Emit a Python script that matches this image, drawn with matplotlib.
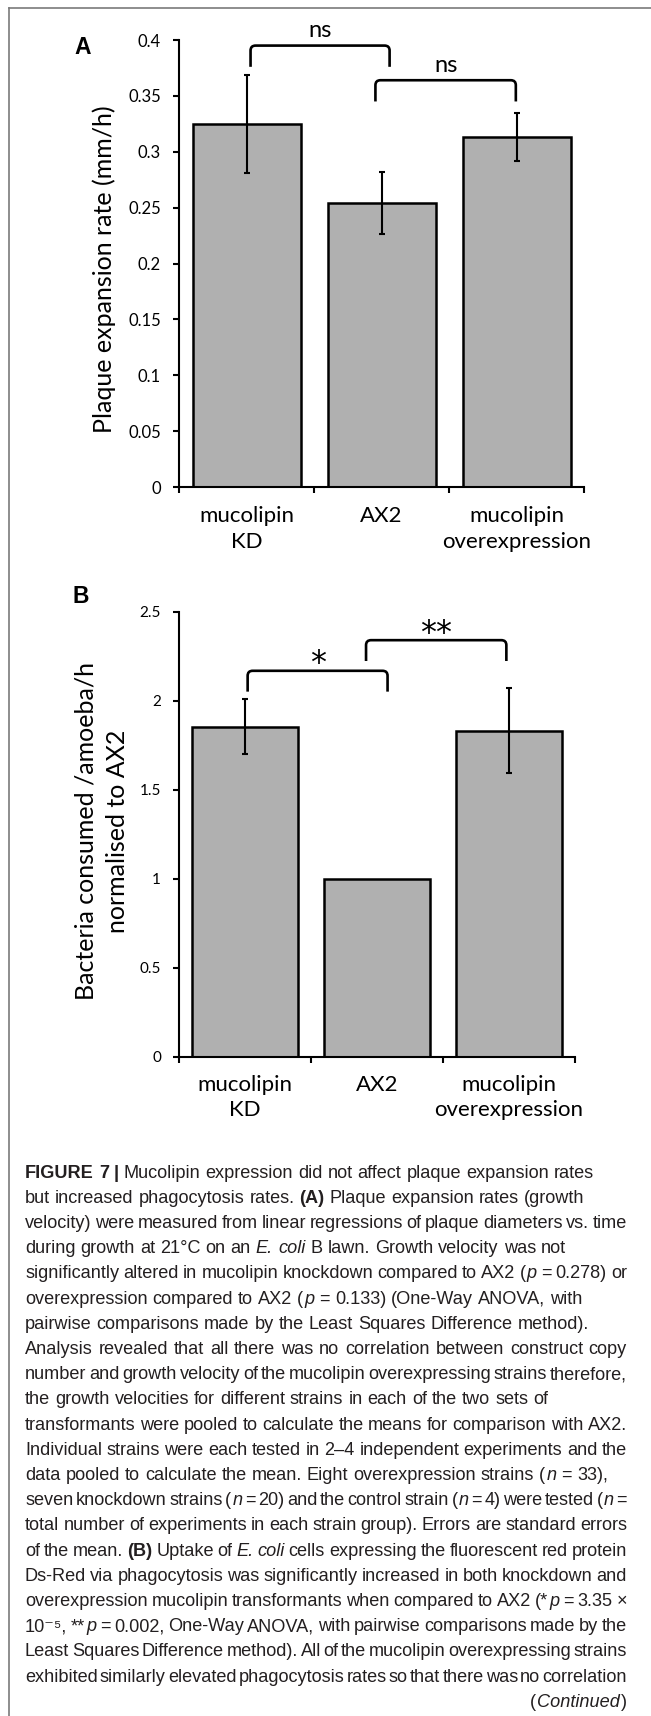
import re

import matplotlib

matplotlib.use("Agg")
import matplotlib.pyplot as plt
from matplotlib.lines import Line2D
from matplotlib.patches import PathPatch
from matplotlib.path import Path
from matplotlib.transforms import IdentityTransform

# Размер картинки в пикселях
W, H = 651, 1716
DPI = 100

# Данные
categories = ["mucolipin\nKD", "AX2", "mucolipin\noverexpression"]

rate_mean = [0.325, 0.254, 0.313]
rate_sem = [0.044, 0.028, 0.0215]
rate_ticks = [0, 0.05, 0.1, 0.15, 0.2, 0.25, 0.3, 0.35, 0.4]
rate_label = "Plaque expansion rate (mm/h)"
# (x от, x до, низ ножек, верх скобки, подпись)
rate_brackets = [(0.03, 1.06, 0.376, 0.395, "ns"), (0.955, 1.995, 0.345, 0.364, "ns")]

uptake_mean = [1.854, 1.0, 1.831]
uptake_sem = [0.156, 0.0, 0.239]
uptake_ticks = [0, 0.5, 1, 1.5, 2, 2.5]
uptake_label = "Bacteria consumed /amoeba/h\nnormalised to AX2"
uptake_brackets = [(0.02, 1.08, 2.05, 2.167, "*"), (0.917, 1.98, 2.222, 2.339, "**")]

CAPTION = [
    "<b>FIGURE 7 |</b> Mucolipin expression did not affect plaque expansion rates",
    "but increased phagocytosis rates. <b>(A)</b> Plaque expansion rates (growth",
    "velocity) were measured from linear regressions of plaque diameters vs. time",
    "during growth at 21°C on an <i>E. coli</i> B lawn. Growth velocity was not",
    "significantly altered in mucolipin knockdown compared to AX2 (<i>p</i> = 0.278) or",
    "overexpression compared to AX2 (<i>p</i> = 0.133) (One-Way ANOVA, with",
    "pairwise comparisons made by the Least Squares Difference method).",
    "Analysis revealed that all there was no correlation between construct copy",
    "number and growth velocity of the mucolipin overexpressing strains therefore,",
    "the growth velocities for different strains in each of the two sets of",
    "transformants were pooled to calculate the means for comparison with AX2.",
    "Individual strains were each tested in 2–4 independent experiments and the",
    "data pooled to calculate the mean. Eight overexpression strains (<i>n</i> = 33),",
    "seven knockdown strains (<i>n</i> = 20) and the control strain (<i>n</i> = 4) were tested (<i>n</i> =",
    "total number of experiments in each strain group). Errors are standard errors",
    "of the mean. <b>(B)</b> Uptake of <i>E. coli</i> cells expressing the fluorescent red protein",
    "Ds-Red via phagocytosis was significantly increased in both knockdown and",
    "overexpression mucolipin transformants when compared to AX2 (*<i>p</i> = 3.35 ×",
    "10⁻⁵, **<i>p</i> = 0.002, One-Way ANOVA, with pairwise comparisons made by the",
    "Least Squares Difference method). All of the mucolipin overexpressing strains",
    "exhibited similarly elevated phagocytosis rates so that there was no correlation",
]
CAPTION_TAIL = "(<i>Continued</i>)"
RAGGED = {0, 1, 3, 5, 6, 9, 12}  # строки без выключки по ширине

# Стиль
BAR_GREY = "#b0b0b0"
CAP_FONT = ["Liberation Sans", "DejaVu Sans"]
CAP_COLOR = "#231f20"
CAP_FS = 13.1
CAP_LEFT, CAP_RIGHT = 25, 627
CAP_BASE, CAP_STEP = 1177.5, 25.2
RUN_GAP = 1.0
MIN_GAP = 0.45  # насколько можно сжать пробел до уменьшения шрифта

plt.rcParams["font.family"] = ["Lato", "DejaVu Sans"]


def px_box(left, top, right, bottom):
    return [left / W, 1 - bottom / H, (right - left) / W, (bottom - top) / H]


def draw_bracket(ax, x0, x1, y0, y1, label, fs, offset, family):
    r = 5  # радиус скругления, px
    rx = r * (ax.get_xlim()[1] - ax.get_xlim()[0]) / ax.bbox.width
    ry = r * (ax.get_ylim()[1] - ax.get_ylim()[0]) / ax.bbox.height
    verts = [(x0, y0), (x0, y1 - ry), (x0, y1), (x0 + rx, y1),
             (x1 - rx, y1), (x1, y1), (x1, y1 - ry), (x1, y0)]
    codes = [Path.MOVETO, Path.LINETO, Path.CURVE3, Path.CURVE3,
             Path.LINETO, Path.CURVE3, Path.CURVE3, Path.LINETO]
    ax.add_patch(PathPatch(Path(verts, codes), fill=False, lw=1.9,
                           edgecolor="black", clip_on=False))
    ax.annotate(label, xy=((x0 + x1) / 2, y1), xytext=(0, offset),
                textcoords="offset points", ha="center", va="baseline",
                fontsize=fs, family=family, annotation_clip=False)


def draw_panel(ax, means, sems, ticks, tick_fs, xpad, ylabel, label_xy, brackets, br_style):
    x = list(range(len(categories)))
    ax.bar(x, means, width=0.8, color=BAR_GREY, edgecolor="black", linewidth=1.8, zorder=2)
    ex = [xi for xi, s in zip(x, sems) if s > 0]
    ey = [m for m, s in zip(means, sems) if s > 0]
    es = [s for s in sems if s > 0]
    ax.errorbar(ex, ey, yerr=es, fmt="none", ecolor="black", elinewidth=1.5,
                capsize=1.9, capthick=1.5, zorder=3)

    ax.set_xlim(-0.5, len(categories) - 0.5)
    ax.set_ylim(ticks[0], ticks[-1])
    for side in ("top", "right"):
        ax.spines[side].set_visible(False)
    for side in ("left", "bottom"):
        ax.spines[side].set_linewidth(1.5)

    ax.set_yticks(ticks)
    ax.set_yticklabels([f"{t:g}" for t in ticks])
    ax.tick_params(axis="y", length=4.3, width=1.5, pad=8.6, labelsize=tick_fs)

    ax.set_xticks(x)
    ax.set_xticklabels(categories, fontsize=16, linespacing=1.35)
    ax.set_xticks([i - 0.5 for i in range(len(categories) + 1)], minor=True)
    ax.tick_params(axis="x", which="major", length=0, pad=xpad)
    ax.tick_params(axis="x", which="minor", length=4.5, width=1.5)

    ax.set_ylabel(ylabel, fontsize=18, linespacing=1.45)
    ax.yaxis.label.set_verticalalignment("center")
    ax.yaxis.set_label_coords(*label_xy)

    for x0, x1, y0, y1, lab in brackets:
        draw_bracket(ax, x0, x1, y0, y1, lab, *br_style)


def parse_runs(line):
    runs, bold, italic = [], False, False
    for part in re.split(r"(</?[bi]>)", line):
        if part == "<b>":
            bold = True
        elif part == "</b>":
            bold = False
        elif part == "<i>":
            italic = True
        elif part == "</i>":
            italic = False
        elif part:
            runs.append((part, bold, italic))
    return runs


def split_words(runs):
    words = [[]]
    for text, b, i in runs:
        for k, piece in enumerate(text.split(" ")):
            if k > 0:
                words.append([])
            if piece:
                words[-1].append((piece, b, i))
    return [w for w in words if w]


def caption_line(fig, renderer, markup, baseline, mode, space):
    words = split_words(parse_runs(markup))
    arts = [[fig.text(0, 0, p, transform=IdentityTransform(), fontsize=CAP_FS,
                      fontweight="bold" if b else "normal",
                      fontstyle="italic" if i else "normal",
                      family=CAP_FONT, color=CAP_COLOR, va="baseline")
             for p, b, i in w] for w in words]

    def measure():
        ws = [[a.get_window_extent(renderer).width for a in w] for w in arts]
        tot = sum(sum(r) + RUN_GAP * (len(r) - 1) for r in ws)
        return ws, tot

    widths, total = measure()
    target = CAP_RIGHT - CAP_LEFT
    tight = total + MIN_GAP * space * (len(words) - 1)
    if tight > target:
        # даже с узкими пробелами не влезает - уменьшаем шрифт строки
        k = target / tight
        for w in arts:
            for a in w:
                a.set_fontsize(CAP_FS * k)
        space *= k
        widths, total = measure()

    if mode == "justify" and len(words) > 1:
        gap = (target - total) / (len(words) - 1)
    else:
        gap = space
    x = CAP_LEFT
    if mode == "right":
        x = CAP_RIGHT - (total + gap * (len(words) - 1))
    for w, ws in zip(arts, widths):
        for a, wd in zip(w, ws):
            a.set_position((x, H - baseline))
            x += wd + RUN_GAP
        x += gap - RUN_GAP


def main():
    fig = plt.figure(figsize=(W / DPI, H / DPI), dpi=DPI)

    # Рамка слева и сверху
    fig.add_artist(Line2D([9 / W, 1], [1 - 8 / H, 1 - 8 / H], transform=fig.transFigure,
                          color="#7a7a7a", lw=1.2))
    fig.add_artist(Line2D([9 / W, 9 / W], [0, 1 - 8 / H], transform=fig.transFigure,
                          color="#7a7a7a", lw=1.2))

    ax_a = fig.add_axes(px_box(179, 40, 584, 487))
    draw_panel(ax_a, rate_mean, rate_sem, rate_ticks, 12, 14, rate_label,
               ((104 - 179) / 405, (487 - 269) / 447), rate_brackets,
               (17, 6, ["Lato", "DejaVu Sans"]))

    ax_b = fig.add_axes(px_box(179, 611.5, 575, 1056.7))
    draw_panel(ax_b, uptake_mean, uptake_sem, uptake_ticks, 11, 13, uptake_label,
               ((101.5 - 179) / 396, (1056.7 - 831) / 445.2), uptake_brackets,
               (23, -1, ["DejaVu Sans"]))

    fig.text(74 / W, 1 - 53.5 / H, "A", fontsize=16.5, fontweight="bold",
             family=CAP_FONT, va="baseline")
    fig.text(72.7 / W, 1 - 602.7 / H, "B", fontsize=16.5, fontweight="bold",
             family=CAP_FONT, va="baseline")

    # Подпись к рисунку
    renderer = fig.canvas.get_renderer()
    probe1 = fig.text(0, 0, "x x", fontsize=CAP_FS, family=CAP_FONT, transform=IdentityTransform())
    probe2 = fig.text(0, 0, "x", fontsize=CAP_FS, family=CAP_FONT, transform=IdentityTransform())
    space = probe1.get_window_extent(renderer).width - 2 * probe2.get_window_extent(renderer).width
    probe1.remove()
    probe2.remove()

    for n, line in enumerate(CAPTION):
        mode = "left" if n in RAGGED else "justify"
        caption_line(fig, renderer, line, CAP_BASE + n * CAP_STEP, mode, space)
    caption_line(fig, renderer, CAPTION_TAIL, CAP_BASE + len(CAPTION) * CAP_STEP, "right", space)

    fig.savefig("out.png", dpi=DPI)
    plt.close(fig)


if __name__ == "__main__":
    main()
